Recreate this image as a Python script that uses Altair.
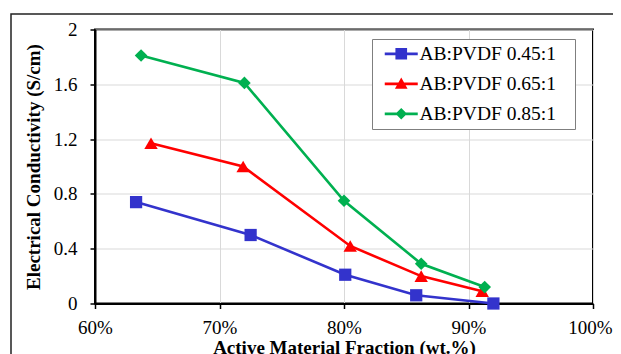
import altair as alt
import pandas as pd

# ---- data ----
series_names = ["AB:PVDF 0.45:1", "AB:PVDF 0.65:1", "AB:PVDF 0.85:1"]
series_colors = ["#3333CC", "#FF0000", "#00B050"]
marker_shapes = ["square", "triangle-up", "diamond"]
marker_sizes = [150, 180, 160]

am_045 = [63.3, 72.5, 80.1, 85.8, 92.0]
ec_045 = [0.74, 0.50, 0.21, 0.06, 0.00]
am_065 = [64.5, 71.9, 80.5, 86.2, 91.1]
ec_065 = [1.17, 1.00, 0.42, 0.20, 0.09]
am_085 = [63.7, 72.0, 80.0, 86.2, 91.3]
ec_085 = [1.81, 1.61, 0.75, 0.29, 0.12]

x_ticks = [60, 70, 80, 90, 100]
y_ticks = [0, 0.4, 0.8, 1.2, 1.6, 2]

# legend symbols: line + marker as custom paths
legend_paths = [
    "M-3,-0.25H3V0.25H-3Z M-1.06,-1.06H1.06V1.06H-1.06Z",
    "M-3,-0.25H3V0.25H-3Z M0,-1.15L1.15,0.9H-1.15Z",
    "M-3,-0.25H3V0.25H-3Z M0,-1.05L1.05,0L0,1.05L-1.05,0Z",
]

rows = []
for name, xs, ys in [(series_names[0], am_045, ec_045),
                     (series_names[1], am_065, ec_065),
                     (series_names[2], am_085, ec_085)]:
    for xv, yv in zip(xs, ys):
        rows.append({"series": name, "am": xv, "ec": yv})
df = pd.DataFrame(rows)

FONT = "'Times New Roman', 'Liberation Serif', serif"

color_scale = alt.Scale(domain=series_names, range=series_colors)

x_enc = alt.X(
    "am:Q",
    scale=alt.Scale(domain=[60, 100], nice=False, zero=False),
    axis=alt.Axis(
        values=x_ticks,
        labelExpr="datum.value + '%'",
        labelOffset={"condition": {"test": "datum.value === 100", "value": -3}, "value": 0},
        title="Active Material Fraction (wt.%)",
        titleFontWeight="bold",
        titleFontSize=19,
        titleFont=FONT,
        titleX=249,
        titleY=35,
        titleBaseline="top",
        titleAlign="center",
        labelFontSize=19,
        labelFont=FONT,
        labelColor="black",
        labelPadding=10,
        tickSize=5,
        tickColor="black",
        tickWidth=1.5,
        domainColor="black",
        domainWidth=2,
        gridColor="#d9d9d9",
        gridWidth=1,
        labelFlush=False,
    ),
)
y_enc = alt.Y(
    "ec:Q",
    scale=alt.Scale(domain=[0, 2], nice=False),
    axis=alt.Axis(
        values=y_ticks,
        format="~g",
        title="Electrical Conductivity (S/cm)",
        titleFontWeight="bold",
        titleFontSize=19,
        titleFont=FONT,
        titleX=-52,
        titleY=137,
        titleAngle=270,
        titleBaseline="bottom",
        titleAlign="center",
        labelFontSize=19,
        labelFont=FONT,
        labelColor="black",
        labelPadding=13,
        tickSize=5,
        tickColor="black",
        tickWidth=1.5,
        domainColor="black",
        domainWidth=2,
        gridColor="#d9d9d9",
        gridWidth=1,
        labelFlush=False,
    ),
)

base = alt.Chart(df)

frame = alt.Chart(pd.DataFrame({"a": [0]})).mark_rect(
    filled=False, stroke="#222222", strokeWidth=1.5
).encode(
    x=alt.value(-84), x2=alt.value(700), y=alt.value(-15.5), y2=alt.value(420)
)

lines = base.mark_line(strokeWidth=2.6).encode(
    x=x_enc, y=y_enc,
    color=alt.Color("series:N", scale=color_scale, legend=None),
)

marker_layers = []
for name, shp, sz in zip(series_names, marker_shapes, marker_sizes):
    marker_layers.append(
        base.transform_filter(alt.datum.series == name)
        .mark_point(filled=True, shape=shp, size=sz, opacity=1)
        .encode(
            x="am:Q", y="ec:Q",
            color=alt.Color("series:N", scale=color_scale, legend=None),
        )
    )

legend = alt.Legend(
    title="\u00a0",
    titleOrient="right",
    titlePadding=14,
    titleFontSize=19,
    titleFont=FONT,
    orient="none",
    legendX=277,
    legendY=9.5,
    padding=5,
    rowPadding=9,
    symbolOffset=14.5,
    labelOffset=8.5,
    labelFontSize=19.5,
    labelFont=FONT,
    labelColor="black",
    symbolSize=121,
    symbolStrokeWidth=0,
    symbolOpacity=1,
    strokeColor="#7f7f7f",
    fillColor="white",
    labelLimit=400,
)

legend_layer = base.mark_point(filled=True, size=121, opacity=0).encode(
    x="am:Q", y="ec:Q",
    color=alt.Color("series:N", scale=color_scale, legend=legend),
    shape=alt.Shape("series:N", scale=alt.Scale(domain=series_names, range=legend_paths), legend=legend),
)

chart = alt.layer(frame, lines, *marker_layers, legend_layer).resolve_scale(
    color="independent", shape="independent"
).resolve_legend(
    color="independent", shape="independent"
).properties(
    width=498,
    height=274,
    padding={"left": 87, "top": 21.5, "right": 20, "bottom": 50.5},
    autosize=alt.AutoSizeParams(type="none"),
).configure(
    font=FONT, background="white"
).configure_view(
    stroke="black", strokeWidth=2
)

chart.save("out.html", embed_options={"renderer": "svg", "actions": False})
